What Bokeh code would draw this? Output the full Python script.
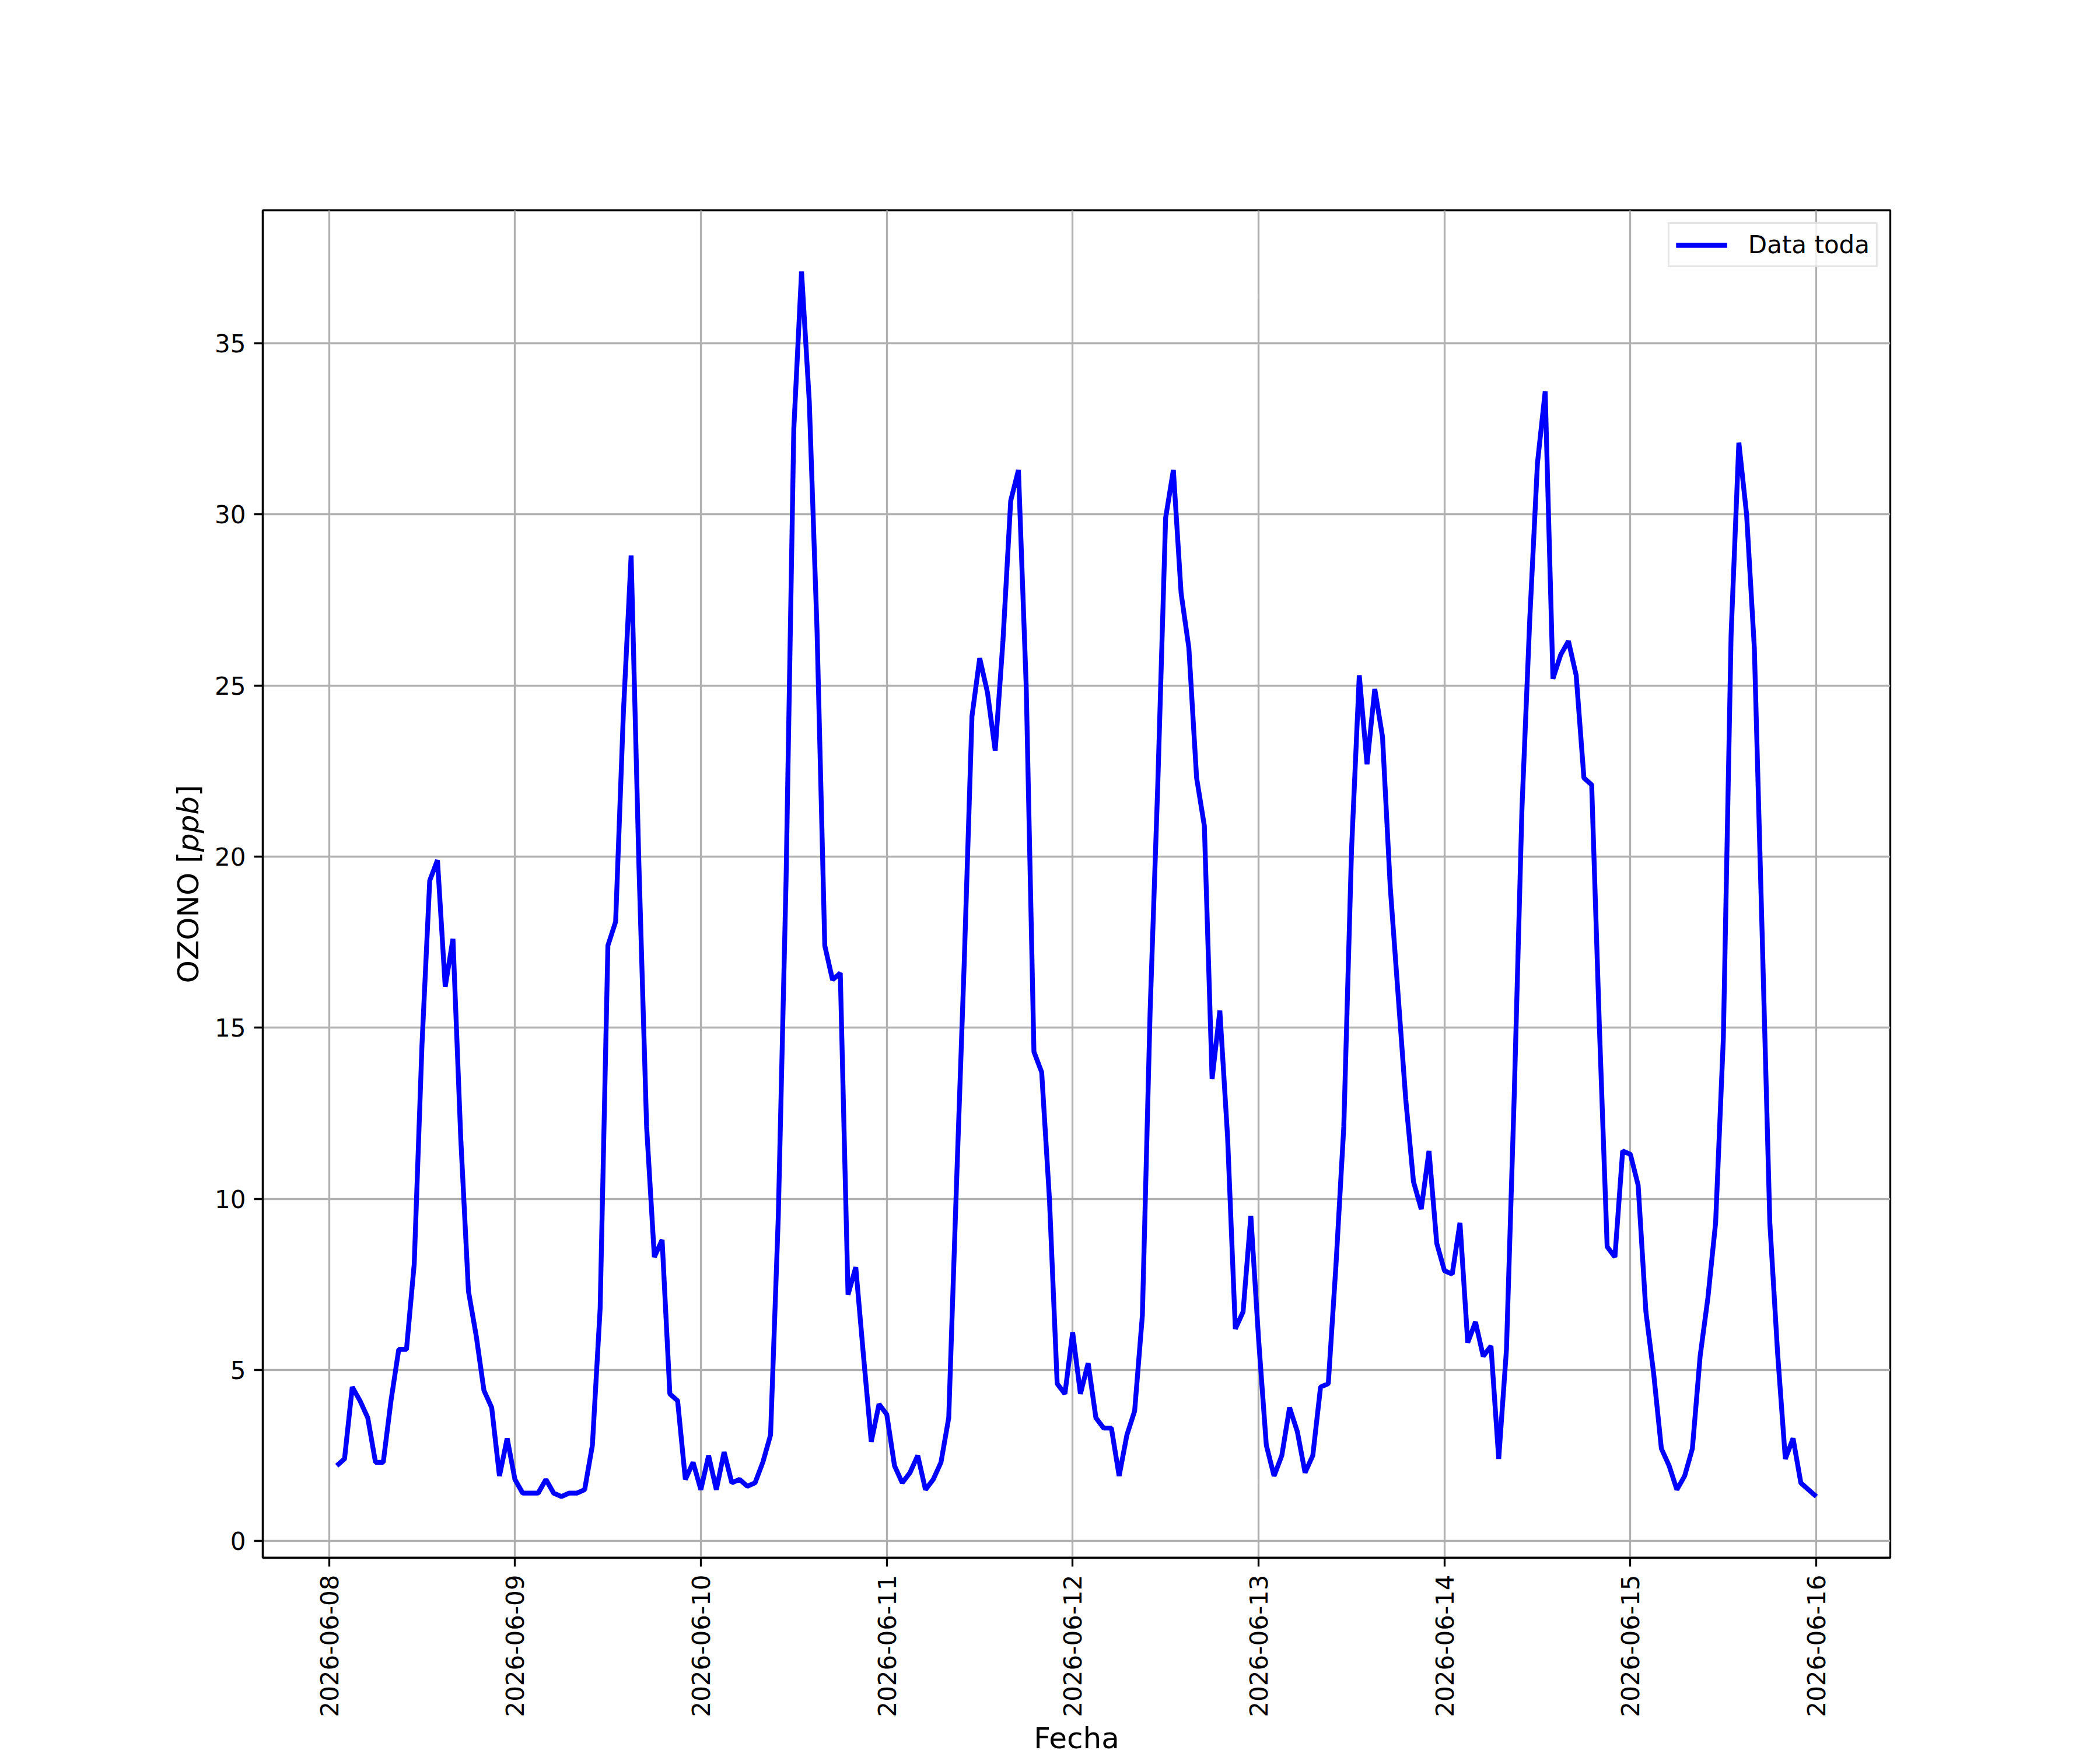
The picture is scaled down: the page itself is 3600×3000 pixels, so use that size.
import math
import pandas as pd
from bokeh.plotting import figure
from bokeh.models import (Range1d, FixedTicker, DatetimeTickFormatter, Legend,
                          LegendItem, ColumnDataSource, Label)
from bokeh.embed import file_html
from bokeh.resources import INLINE

# ---- data (hourly ozone, ppb) ----
start_time = "2026-06-08 01:00"
n_hours = 192
ozono = [
    # 2026-06-08
    2.2, 2.4, 4.5, 4.1, 3.6, 2.3, 2.3, 4.1, 5.6, 5.6, 8.1, 14.5,
    19.3, 19.9, 16.2, 17.6, 11.8, 7.3, 6.0, 4.4, 3.9, 1.9, 3.0, 1.8,
    # 2026-06-09
    1.4, 1.4, 1.4, 1.8, 1.4, 1.3, 1.4, 1.4, 1.5, 2.8, 6.8, 17.4,
    18.1, 24.2, 28.8, 19.8, 12.1, 8.3, 8.8, 4.3, 4.1, 1.8, 2.3, 1.5,
    # 2026-06-10
    2.5, 1.5, 2.6, 1.7, 1.8, 1.6, 1.7, 2.3, 3.1, 9.5, 19.3, 32.5,
    37.1, 33.3, 26.6, 17.4, 16.4, 16.6, 7.2, 8.0, 5.4, 2.9, 4.0, 3.7,
    # 2026-06-11
    2.2, 1.7, 2.0, 2.5, 1.5, 1.8, 2.3, 3.6, 10.4, 16.9, 24.1, 25.8,
    24.8, 23.1, 26.3, 30.4, 31.3, 25.0, 14.3, 13.7, 10.0, 4.6, 4.3, 6.1,
    # 2026-06-12
    4.3, 5.2, 3.6, 3.3, 3.3, 1.9, 3.1, 3.8, 6.6, 15.5, 22.2, 29.9,
    31.3, 27.7, 26.1, 22.3, 20.9, 13.5, 15.5, 11.8, 6.2, 6.7, 9.5, 5.9,
    # 2026-06-13
    2.8, 1.9, 2.5, 3.9, 3.2, 2.0, 2.5, 4.5, 4.6, 8.1, 12.1, 20.2,
    25.3, 22.7, 24.9, 23.5, 19.1, 16.0, 12.9, 10.5, 9.7, 11.4, 8.7, 7.9,
    # 2026-06-14
    7.8, 9.3, 5.8, 6.4, 5.4, 5.7, 2.4, 5.6, 13.0, 21.4, 26.9, 31.5,
    33.6, 25.2, 25.9, 26.3, 25.3, 22.3, 22.1, 15.0, 8.6, 8.3, 11.4, 11.3,
    # 2026-06-15
    10.4, 6.7, 4.9, 2.7, 2.2, 1.5, 1.9, 2.7, 5.4, 7.1, 9.3, 14.7,
    26.5, 32.1, 30.0, 26.1, 17.8, 9.3, 5.5, 2.4, 3.0, 1.7, 1.5, 1.3,
]
tick_days = ["2026-06-08", "2026-06-09", "2026-06-10", "2026-06-11", "2026-06-12",
             "2026-06-13", "2026-06-14", "2026-06-15", "2026-06-16"]
y_ticks = [0, 5, 10, 15, 20, 25, 30, 35]
series_label = "Data toda"
x_label = "Fecha"
y_label_parts = ["OZONO [", "ppb", "]"]          # "ppb" in italics (math text)
y_label_styles = ["normal", "italic", "normal"]

fecha = pd.date_range(start_time, periods=n_hours, freq="h")
src = ColumnDataSource(dict(fecha=fecha, ozono=ozono))

# matplotlib-like 5% margins
t0 = fecha[0].value / 1e6
t1 = fecha[-1].value / 1e6
xm = 0.05 * (t1 - t0)
ymin, ymax = min(ozono), max(ozono)
ym = 0.05 * (ymax - ymin)
x_start, x_end = t0 - xm, t1 + xm
y_start, y_end = ymin - ym, ymax + ym

FONT = "DejaVu Sans"
FS = "42px"        # 10 pt at 300 dpi
FS_LABEL = "50px"  # 12 pt at 300 dpi

BORDER_L, BORDER_T = 450, 360
FRAME_W, FRAME_H = 2790, 2310
TOTAL_H = 3000

p = figure(x_axis_type="datetime", output_backend="svg", toolbar_location=None,
           title=None,
           frame_width=FRAME_W, frame_height=FRAME_H,
           min_border_left=BORDER_L, min_border_right=300,
           min_border_top=BORDER_T, min_border_bottom=TOTAL_H - BORDER_T - FRAME_H,
           x_range=Range1d(x_start, x_end),
           y_range=Range1d(y_start, y_end),
           background_fill_color="white", border_fill_color="white")

r = p.line("fecha", "ozono", source=src, line_color="#0000ff", line_width=8.3)

tick_ms = [pd.Timestamp(d).value / 1e6 for d in tick_days]
p.xaxis.ticker = FixedTicker(ticks=tick_ms)
fmt = "%Y-%m-%d"
p.xaxis.formatter = DatetimeTickFormatter(
    microseconds=fmt, milliseconds=fmt, seconds=fmt, minsec=fmt, minutes=fmt,
    hourmin=fmt, hours=fmt, days=fmt, months=fmt, years=fmt)
p.xaxis.major_label_orientation = math.pi / 2
p.yaxis.ticker = FixedTicker(ticks=y_ticks)

p.xaxis.axis_label = x_label

for ax in (p.xaxis, p.yaxis):
    ax.axis_label_text_font = FONT
    ax.axis_label_text_font_size = FS_LABEL
    ax.axis_label_text_font_style = "normal"
    ax.axis_label_text_color = "black"
    ax.major_label_text_font = FONT
    ax.major_label_text_font_size = FS
    ax.major_label_text_color = "black"
    ax.major_tick_out = 15
    ax.major_tick_in = 0
    ax.major_tick_line_width = 3.3
    ax.major_tick_line_color = "black"
    ax.minor_tick_line_color = None
    ax.axis_line_width = 3.3
    ax.axis_line_color = "black"
    ax.major_label_standoff = 14
p.xaxis.axis_label_standoff = 4

# y-axis label: "OZONO [" + italic "ppb" + "]" (rotated, reading upwards),
# placed in the left side panel (outside the frame) using the frame's scales
em = 50.0
part_widths = [4.502 * em, 1.905 * em, 0.390 * em]   # DejaVu Sans advances (px)
px_per_y = FRAME_H / (y_end - y_start)
px_per_x = FRAME_W / (x_end - x_start)
label_x = x_start - 128 / px_per_x                  # ~128 px left of the frame
pos = (y_start + y_end) / 2 - sum(part_widths) / 2 / px_per_y
for txt, sty, w in zip(y_label_parts, y_label_styles, part_widths):
    p.add_layout(Label(x=label_x, y=pos, x_units="data", y_units="data",
                       text=txt, angle=math.pi / 2, text_align="left",
                       text_baseline="middle", text_font=FONT,
                       text_font_size=FS_LABEL, text_font_style=sty,
                       text_color="black"), "left")
    pos += w / px_per_y

p.outline_line_color = "black"
p.outline_line_width = 3.3
p.outline_line_alpha = 1.0

p.xgrid.ticker = FixedTicker(ticks=tick_ms)
p.ygrid.ticker = FixedTicker(ticks=y_ticks)
for g in (p.xgrid, p.ygrid):
    g.grid_line_color = "#b0b0b0"
    g.grid_line_width = 3.3

legend = Legend(items=[LegendItem(label=series_label, renderers=[r])],
                location="top_right", margin=21, padding=11, spacing=0,
                glyph_width=88, glyph_height=30, label_height=30,
                label_standoff=36,
                label_text_font=FONT, label_text_font_size=FS,
                label_text_color="black",
                border_line_color="#cccccc", border_line_width=3.3,
                background_fill_color="white", background_fill_alpha=0.8)
p.add_layout(legend)

open("out.html", "w").write(file_html(p, INLINE))
